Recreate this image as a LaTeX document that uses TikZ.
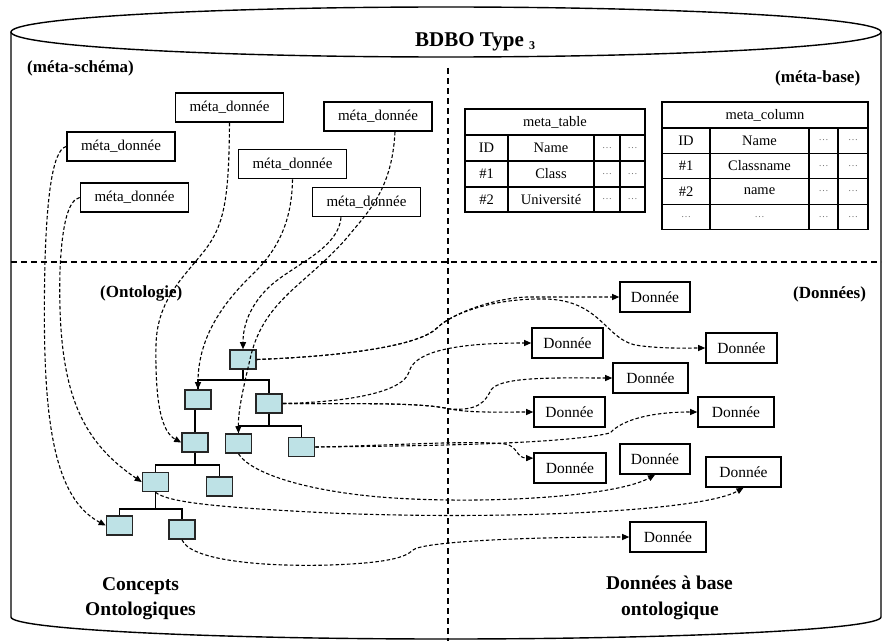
\documentclass[tikz,border=0pt]{standalone}
\usepackage{fontspec}
\setmainfont{Liberation Serif}
\usetikzlibrary{arrows.meta,calc}
\definecolor{tcol}{RGB}{190,226,230}
\begin{document}
\begin{tikzpicture}[x=1pt,y=-1pt,
  mbox/.style={draw, line width=1.6pt, minimum width=108pt, minimum height=29pt, inner sep=0pt, font=\fontsize{15}{15}\selectfont},
  dbox/.style={draw, line width=1.6pt, minimum height=30pt, inner sep=0pt, font=\fontsize{15.5}{15.5}\selectfont},
  tnode/.style={draw=black!85, fill=tcol, line width=1.6pt, minimum width=26pt, minimum height=19pt, inner sep=0pt},
  cell/.style={draw, line width=1.3pt, inner sep=0pt, font=\fontsize{14.5}{14.5}\selectfont},
  dots/.style={cell, font=\fontsize{10}{10}\selectfont, text=black!55},
  conn/.style={line width=1.1pt, dash pattern=on 3.5pt off 2.2pt, -{Triangle[length=7pt,width=6pt]}},
  tree/.style={line width=1.4pt},
  divider/.style={line width=1.1pt, dash pattern=on 6pt off 4pt},
  lbl/.style={font=\bfseries\fontsize{17}{17}\selectfont, inner sep=0pt},
  big/.style={font=\bfseries\fontsize{19.5}{19.5}\selectfont, inner sep=0pt}
]
\useasboundingbox (0,0) rectangle (883,642);
% cylinder
\draw[line width=1.4pt] (446,32) ellipse [x radius=435pt, y radius=25pt];
\draw[line width=1.4pt] (11,32) -- (11,617) arc[start angle=180, end angle=360, x radius=435pt, y radius=22pt] -- (881,32);
% dividers
\draw[divider] (448,68) -- (448,641);
\draw[divider] (11,262) -- (881,262);
% labels
\node[font=\bfseries\fontsize{21}{21}\selectfont, inner sep=0pt, anchor=base west] (title) at (415,47) {BDBO Type \raisebox{-3pt}{\fontsize{12}{12}\selectfont 3}};
\node[lbl, anchor=base west] (lms) at (27,73) {(méta-schéma)};
\node[lbl, anchor=base west] (lmb) at (775,82) {(méta-base)};
\node[lbl, anchor=base west] (lon) at (100,297) {(Ontologie)};
\node[lbl, anchor=base west] (ldo) at (793,298) {(Données)};
\node[big, anchor=base] (lc1) at (140.5,590) {Concepts};
\node[big, anchor=base] (lc2) at (140.5,615) {Ontologiques};
\node[big, anchor=base] (ld1) at (669.5,589) {Données à base};
\node[big, anchor=base] (ld2) at (670,615) {ontologique};
% meta boxes
\node[mbox] (A) at (229.5,107.5) {méta\_donnée};
\node[mbox] (B) at (121,146.5) {méta\_donnée};
\node[mbox] (C) at (134.5,197.5) {méta\_donnée};
\node[mbox] (D) at (292.5,164) {méta\_donnée};
\node[mbox] (E) at (378,116.5) {méta\_donnée};
\node[mbox] (F) at (366.5,202) {méta\_donnée};
% meta_table
\node[cell, minimum width=180pt, minimum height=26pt] (mth) at (555,122) {meta\_table};
\node[cell, minimum width=43pt, minimum height=26pt] (mt11) at (486.5,148) {ID};
\node[cell, minimum width=86pt, minimum height=26pt] (mt12) at (551,148) {Name};
\node[dots, minimum width=26pt, minimum height=26pt] (mt13) at (607,148) {…};
\node[dots, minimum width=25pt, minimum height=26pt] (mt14) at (632.5,148) {…};
\node[cell, minimum width=43pt, minimum height=26pt] (mt21) at (486.5,174) {\#1};
\node[cell, minimum width=86pt, minimum height=26pt] (mt22) at (551,174) {Class};
\node[dots, minimum width=26pt, minimum height=26pt] (mt23) at (607,174) {…};
\node[dots, minimum width=25pt, minimum height=26pt] (mt24) at (632.5,174) {…};
\node[cell, minimum width=43pt, minimum height=25pt] (mt31) at (486.5,199.5) {\#2};
\node[cell, minimum width=86pt, minimum height=25pt] (mt32) at (551,199.5) {Université};
\node[dots, minimum width=26pt, minimum height=25pt] (mt33) at (607,199.5) {…};
\node[dots, minimum width=25pt, minimum height=25pt] (mt34) at (632.5,199.5) {…};
% meta_column
\node[cell, minimum width=206pt, minimum height=26pt] (mch) at (765,115) {meta\_column};
\node[cell, minimum width=48pt, minimum height=25.5pt] (mc11) at (686,140.5) {ID};
\node[cell, minimum width=99pt, minimum height=25.5pt] (mc12) at (759.5,140.5) {Name};
\node[dots, minimum width=29pt, minimum height=25.5pt] (mc13) at (823.5,140.5) {…};
\node[dots, minimum width=30pt, minimum height=25.5pt] (mc14) at (853,140.5) {…};
\node[cell, minimum width=48pt, minimum height=25.5pt] (mc21) at (686,166) {\#1};
\node[cell, minimum width=99pt, minimum height=25.5pt] (mc22) at (759.5,166) {Classname};
\node[dots, minimum width=29pt, minimum height=25.5pt] (mc23) at (823.5,166) {…};
\node[dots, minimum width=30pt, minimum height=25.5pt] (mc24) at (853,166) {…};
\node[cell, minimum width=48pt, minimum height=25.5pt] (mc31) at (686,191.5) {\#2};
\node[cell, minimum width=99pt, minimum height=25.5pt] (mc32) at (759.5,191.5) {name};
\node[dots, minimum width=29pt, minimum height=25.5pt] (mc33) at (823.5,191.5) {…};
\node[dots, minimum width=30pt, minimum height=25.5pt] (mc34) at (853,191.5) {…};
\node[dots, minimum width=48pt, minimum height=25.5pt] (mc41) at (686,217) {…};
\node[dots, minimum width=99pt, minimum height=25.5pt] (mc42) at (759.5,217) {…};
\node[dots, minimum width=29pt, minimum height=25.5pt] (mc43) at (823.5,217) {…};
\node[dots, minimum width=30pt, minimum height=25.5pt] (mc44) at (853,217) {…};
% tree
\node[tnode] (T1) at (243,359.5) {};
\node[tnode] (T2) at (198,399.5) {};
\node[tnode] (T3) at (269,403.5) {};
\node[tnode] (T4) at (195,442.5) {};
\node[tnode] (T5) at (238.5,443.5) {};
\node[tnode] (T6) at (301.5,447) {};
\node[tnode] (T7) at (155.5,482) {};
\node[tnode] (T8) at (219.5,486.5) {};
\node[tnode] (T9) at (119.5,525.5) {};
\node[tnode] (T10) at (182,529.5) {};
\coordinate (b1) at (0,380);
\coordinate (b2) at (0,426);
\coordinate (b3) at (0,465);
\coordinate (b4) at (0,509);
\draw[tree] (T1.south) -- (T1.south |- b1);
\draw[tree] (T2.north) -- (T2.north |- b1) -- (T3.north |- b1) -- (T3.north);
\draw[tree] (T4.north |- T2.south) -- (T4.north);
\draw[tree] (T3.south) -- (T3.south |- b2);
\draw[tree] (T5.north) -- (T5.north |- b2) -- (T6.north |- b2) -- (T6.north);
\draw[tree] (T4.south) -- (T4.south |- b3);
\draw[tree] (T7.north) -- (T7.north |- b3) -- (T8.north |- b3) -- (T8.north);
\draw[tree] (T7.south) -- (T7.south |- b4);
\draw[tree] (T9.north) -- (T9.north |- b4) -- (T10.north |- b4) -- (T10.north);
% data boxes
\node[dbox, minimum width=70pt] (D1) at (655,297) {Donnée};
\node[dbox, minimum width=71pt] (D2) at (567.5,343) {Donnée};
\node[dbox, minimum width=71pt] (D3) at (741.5,348) {Donnée};
\node[dbox, minimum width=75pt] (D4) at (650.5,378) {Donnée};
\node[dbox, minimum width=71pt] (D5) at (569.5,412) {Donnée};
\node[dbox, minimum width=76pt] (D6) at (736,412) {Donnée};
\node[dbox, minimum width=72pt] (D7) at (570,468) {Donnée};
\node[dbox, minimum width=70pt] (D8) at (655,459) {Donnée};
\node[dbox, minimum width=75pt] (D9) at (743.5,472) {Donnée};
\node[dbox, minimum width=76pt] (D10) at (668,537) {Donnée};
% meta -> tree
\draw[conn] (B.west) .. controls (52,150) and (47,200) .. (45,260) .. controls (42,400) and (48,495) .. (T9.west);
\draw[conn] (C.west) .. controls (68,200) and (62,225) .. (60,270) .. controls (57,390) and (80,440) .. (T7.west);
\draw[conn] (A.south) .. controls (229,200) and (224,225) .. (205,250) .. controls (183,278) and (157,300) .. (156,345) .. controls (155,405) and (162,432) .. (T4.west);
\draw[conn] (D.south) .. controls (292,215) and (282,245) .. (255,272) .. controls (220,305) and (198,340) .. (T2.north);
\draw[conn] ($(F.south)+(-25.5,0)$) .. controls (338,250) and (292,265) .. (268,288) .. controls (250,306) and (243,325) .. (T1.north);
\draw[conn] ($(E.south)+(17,0)$) .. controls (392,190) and (368,212) .. (345,240) .. controls (305,285) and (265,300) .. (251,355) .. controls (244,385) and (238,410) .. (T5.north);
% tree -> data
\draw[conn] (T1.east) .. controls (350,356) and (420,345) .. (437,328) .. controls (452,313) and (495,298) .. (545,299) .. controls (600,300) and (605,338) .. (635,345) .. controls (660,349) and (690,348) .. (D3.west);
\draw[conn] (T1.east) .. controls (350,356) and (420,345) .. (437,328) .. controls (452,313) and (495,298) .. (527,297) -- (D1.west);
\draw[conn] (T3.east) .. controls (350,402) and (403,392) .. (409,372) .. controls (415,348) and (470,343) .. (D2.west);
\draw[conn] (T3.east) .. controls (350,404) and (420,402) .. (450,409) .. controls (470,413) and (500,412) .. (D5.west);
\draw[conn] (T3.east) .. controls (350,404) and (420,402) .. (450,409) .. controls (478,411) and (485,402) .. (491,390) .. controls (500,376) and (560,378) .. (D4.west);
\draw[conn] (T6.east) .. controls (380,446) and (470,440) .. (505,444) .. controls (518,446) and (516,458) .. (D7.165);
\draw[conn] (T6.east) .. controls (400,446) and (560,445) .. (610,433) .. controls (622,420) and (650,412) .. (D6.west);
\draw[conn] (T5.south) .. controls (250,472) and (300,490) .. (380,497) .. controls (480,505) and (615,497) .. (D8.south);
\draw[conn] (T7.south) .. controls (168,502) and (210,507) .. (330,513) .. controls (500,520) and (700,512) .. (D9.south);
\draw[conn] (T10.south) .. controls (190,560) and (260,567) .. (330,565) .. controls (385,563) and (405,558) .. (413,550) .. controls (422,542) and (520,537) .. (D10.west);
\end{tikzpicture}
\end{document}
